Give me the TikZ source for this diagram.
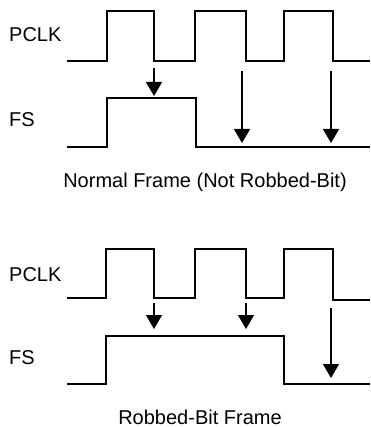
\documentclass[tikz,border=0pt]{standalone}
\usepackage{fontspec}
\setmainfont{Liberation Sans}
\usetikzlibrary{arrows.meta}
\begin{document}
\begin{tikzpicture}[x=1pt,y=-1pt,
  wave/.style={line width=1.6pt,line join=miter},
  sig/.style={-{Triangle[width=16pt,length=14pt]},line width=1.4pt},
  lbl/.style={font=\fontsize{20}{23}\selectfont,anchor=west,inner sep=0pt},
  captxt/.style={font=\fontsize{20}{23}\selectfont,inner sep=0pt}]
\useasboundingbox (0,0) rectangle (370,427);
% ---------- Normal frame ----------
\node[lbl] (pclkA) at (9,35) {PCLK};
\node[lbl] (fsA) at (9,120) {FS};
\draw[wave] (67,61) -- (107,61) -- (107,11) -- (154,11) -- (154,61) -- (195,61) -- (195,11)
  -- (246,11) -- (246,61) -- (284,61) -- (284,11) -- (333,11) -- (333,61) -- (370,61);
\draw[wave] (67,147) -- (107,147) -- (107,98) -- (196,98) -- (196,147) -- (370,147);
\coordinate (a1s) at (154,68); \coordinate (a1e) at (154,96);
\coordinate (a2s) at (242,71); \coordinate (a2e) at (242,143);
\coordinate (a3s) at (331,71); \coordinate (a3e) at (331,143);
\draw[sig] (a1s) -- (a1e);
\draw[sig] (a2s) -- (a2e);
\draw[sig] (a3s) -- (a3e);
\node[captxt] (capA) at (205,182) {Normal Frame (Not Robbed-Bit)};
% ---------- Robbed-bit frame ----------
\node[lbl] (pclkB) at (9,275) {PCLK};
\node[lbl] (fsB) at (9,358) {FS};
\draw[wave] (67,298) -- (106,298) -- (106,249) -- (154,249) -- (154,298) -- (195,298) -- (195,249)
  -- (246,249) -- (246,298) -- (284,298) -- (284,249) -- (333,249) -- (333,300) -- (370,300);
\draw[wave] (67,384) -- (106,384) -- (106,336) -- (284,336) -- (284,384) -- (370,384);
\coordinate (b1s) at (154,303); \coordinate (b1e) at (154,329);
\coordinate (b2s) at (246,303); \coordinate (b2e) at (246,329);
\coordinate (b3s) at (331,308); \coordinate (b3e) at (331,378);
\draw[sig] (b1s) -- (b1e);
\draw[sig] (b2s) -- (b2e);
\draw[sig] (b3s) -- (b3e);
\node[captxt] (capB) at (200,417) {Robbed-Bit Frame};
\end{tikzpicture}
\end{document}
